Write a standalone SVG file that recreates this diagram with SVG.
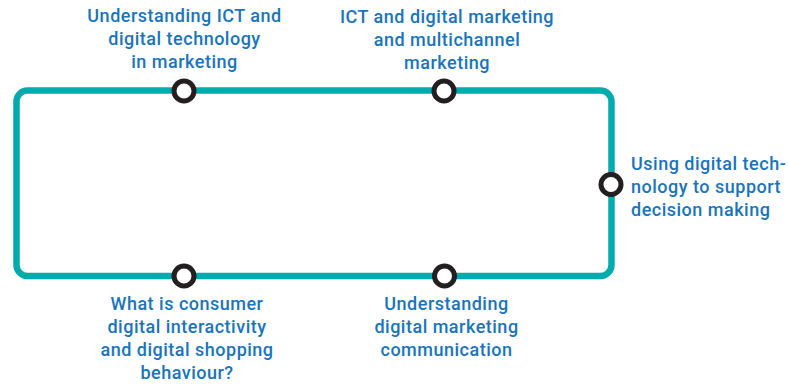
<svg xmlns="http://www.w3.org/2000/svg" width="789" height="387" viewBox="0 0 789 387">
<style>
.lbl{font-family:Roboto,"Liberation Sans",sans-serif;font-size:18px;font-weight:500;letter-spacing:0.5px;fill:#1a74bb}
.c{text-anchor:middle}
.node{fill:#fff;stroke:#231f20;stroke-width:5}
.track{fill:none;stroke:#00abad;stroke-width:6.5}
</style>
<rect width="789" height="387" fill="#fff"/>
<g id="connectors">
<rect class="track" x="16.5" y="90.5" width="595" height="185.5" rx="11"/>
</g>
<g id="n1">
<circle class="node" cx="184" cy="91" r="10"/>
<text class="lbl c" x="184.5" y="22">Understanding ICT and</text>
<text class="lbl c" x="184.5" y="45">digital technology</text>
<text class="lbl c" x="184.5" y="68">in marketing</text>
</g>
<g id="n2">
<circle class="node" cx="444" cy="91" r="10"/>
<text class="lbl c" x="447" y="23">ICT and digital marketing</text>
<text class="lbl c" x="447" y="46">and multichannel</text>
<text class="lbl c" x="447" y="69">marketing</text>
</g>
<g id="n3">
<circle class="node" cx="611" cy="184.5" r="10"/>
<text class="lbl" x="631" y="170">Using digital tech-</text>
<text class="lbl" x="631" y="193">nology to support</text>
<text class="lbl" x="631" y="216">decision making</text>
</g>
<g id="n4">
<circle class="node" cx="184" cy="276" r="10"/>
<text class="lbl c" x="187" y="310">What is consumer</text>
<text class="lbl c" x="187" y="333">digital interactivity</text>
<text class="lbl c" x="187" y="356">and digital shopping</text>
<text class="lbl c" x="187" y="379">behaviour?</text>
</g>
<g id="n5">
<circle class="node" cx="444.5" cy="276" r="10"/>
<text class="lbl c" x="446.5" y="310">Understanding</text>
<text class="lbl c" x="446.5" y="333">digital marketing</text>
<text class="lbl c" x="446.5" y="356">communication</text>
</g>
</svg>
